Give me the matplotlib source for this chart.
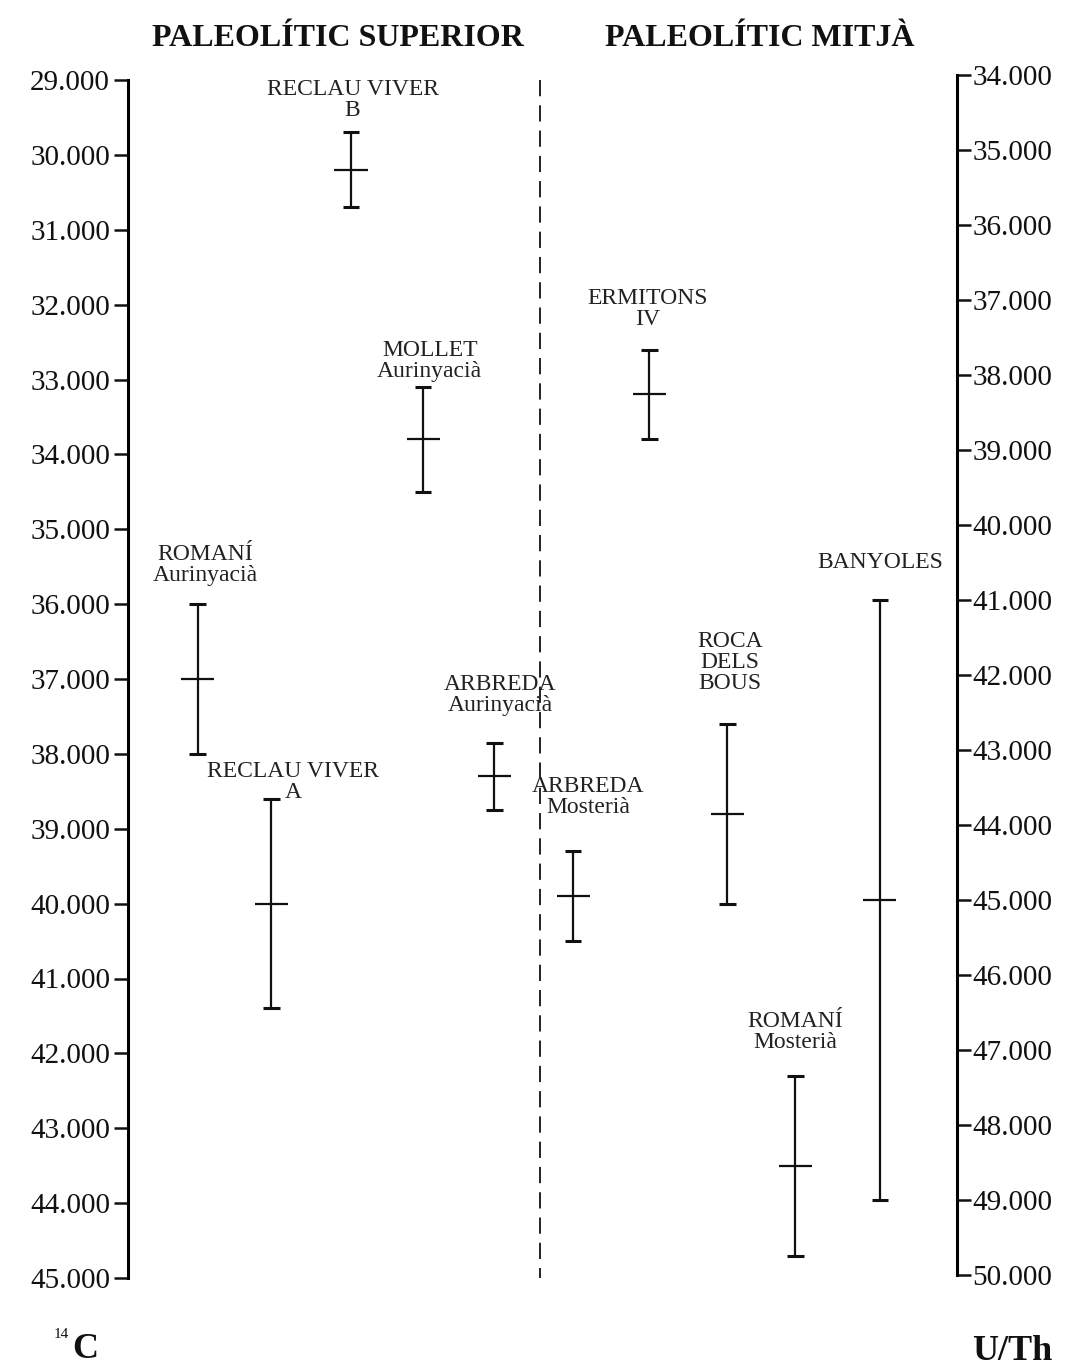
import matplotlib
matplotlib.use("Agg")
import matplotlib.pyplot as plt

plt.rcParams['font.family'] = ['Liberation Serif', 'DejaVu Serif']

# ---- data (thousands of years BP) ----
sites = ["RECLAU VIVER\nB", "MOLLET\nAurinyacià", "ROMANÍ\nAurinyacià", "RECLAU VIVER\nA",
         "ARBREDA\nAurinyacià", "ARBREDA\nMosterià", "ERMITONS\nIV", "ROCA\nDELS\nBOUS",
         "ROMANÍ\nMosterià", "BANYOLES"]
age_center = [30.2, 33.8, 37.0, 40.0, 38.3, 39.9, 33.2, 38.8, 43.5, 45.0]
age_young = [29.7, 33.1, 36.0, 38.6, 37.85, 39.3, 32.6, 37.6, 42.3, 41.0]
age_old = [30.7, 34.5, 38.0, 41.4, 38.75, 40.5, 33.8, 40.0, 44.7, 49.0]
method = ["C14", "C14", "C14", "C14", "C14", "C14", "C14", "C14", "C14", "UTh"]

c14_ticks = [29, 30, 31, 32, 33, 34, 35, 36, 37, 38, 39, 40, 41, 42, 43, 44, 45]
uth_ticks = [34, 35, 36, 37, 38, 39, 40, 41, 42, 43, 44, 45, 46, 47, 48, 49, 50]

# ---- layout ----
x_pos = [26.9, 35.6, 8.4, 17.3, 44.2, 53.7, 62.9, 72.3, 80.5, 90.7]
label_x = [27.1, 36.4, 9.3, 19.9, 44.9, 55.5, 62.7, 72.6, 80.5, 90.7]
label_y = [29.27, 32.75, 35.48, 38.37, 37.22, 38.58, 32.06, 36.78, 41.71, 35.44]
divider_x = 49.7

W, H = 1069, 1369
fig = plt.figure(figsize=(W / 100, H / 100), dpi=100)
fig.patch.set_facecolor("white")

x0, x1 = 128, 957
ax = fig.add_axes([x0 / W, 1 - 1278 / H, (x1 - x0) / W, (1278 - 80) / H])
ax2 = fig.add_axes([x0 / W, 1 - 1275 / H, (x1 - x0) / W, (1275 - 75) / H])
ax2.patch.set_alpha(0)

ax.set_xlim(0, 100)
ax2.set_xlim(0, 100)
ax.set_ylim(45, 29)
ax2.set_ylim(50, 34)

for a in (ax, ax2):
    for s in a.spines.values():
        s.set_visible(False)
    a.set_xticks([])
ax.spines['left'].set_visible(True)
ax.spines['left'].set_linewidth(2.2)
ax2.spines['right'].set_visible(True)
ax2.spines['right'].set_linewidth(2.2)

fmt = lambda v: f"{v}.000"
ax.set_yticks(c14_ticks)
ax.set_yticklabels([fmt(v) for v in c14_ticks])
ax.tick_params(axis='y', direction='out', length=10, width=1.8, pad=3,
               labelsize=21, colors='#111111')
ax2.yaxis.tick_right()
ax2.set_yticks(uth_ticks)
ax2.set_yticklabels([fmt(v) for v in uth_ticks])
ax2.tick_params(axis='y', direction='out', length=10, width=1.8, pad=1,
                labelsize=21, colors='#111111', left=False, labelleft=False,
                right=True, labelright=True)

# dashed divider between Upper and Middle Palaeolithic
ax.plot([divider_x, divider_x], [29, 45], color='#111111', lw=1.3,
        linestyle=(0, (9, 5)))

cap_hw = 1.0
mid_hw = 2.0
for i in range(len(sites)):
    a = ax if method[i] == "C14" else ax2
    x = x_pos[i]
    a.vlines(x, age_young[i], age_old[i], color='#111111', lw=1.6)
    a.hlines([age_young[i], age_old[i]], x - cap_hw, x + cap_hw, color='#111111', lw=2.2)
    a.hlines(age_center[i], x - mid_hw, x + mid_hw, color='#111111', lw=1.6)
    ax.text(label_x[i], label_y[i], sites[i], ha='center', va='center',
            fontsize=17, linespacing=1.0, color='#222222')

fig.text(338 / W, 1 - 38 / H, "PALEOLÍTIC SUPERIOR", ha='center', va='center',
         fontsize=23, fontweight='bold', color='#111111')
fig.text(760 / W, 1 - 38 / H, "PALEOLÍTIC MITJÀ", ha='center', va='center',
         fontsize=23, fontweight='bold', color='#111111')

fig.text(61 / W, 1 - 1334 / H, "14", ha='center', va='center',
         fontsize=11, color='#111111')
fig.text(85 / W, 1 - 1350 / H, "C", ha='center', va='center',
         fontsize=26, fontweight='bold', color='#111111')
fig.text(1012 / W, 1 - 1352 / H, "U/Th", ha='center', va='center',
         fontsize=26, fontweight='bold', color='#111111')

fig.savefig("out.png", dpi=100, facecolor="white")
